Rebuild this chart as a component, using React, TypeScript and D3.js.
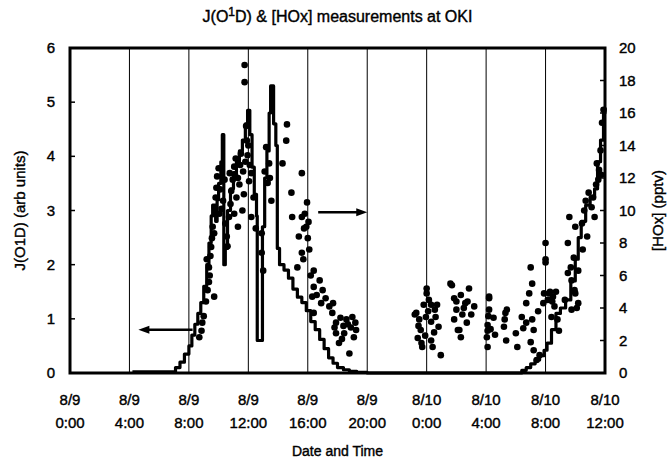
import { useEffect, useRef } from "react";
import * as d3 from "d3";

// x axis: hours since 8/9 0:00
const tickHours = [0, 4, 8, 12, 16, 20, 24, 28, 32, 36];
const tickDates = ["8/9", "8/9", "8/9", "8/9", "8/9", "8/9", "8/10", "8/10", "8/10", "8/10"];
const tickTimes = ["0:00", "4:00", "8:00", "12:00", "16:00", "20:00", "0:00", "4:00", "8:00", "12:00"];

// J(O1D) trace (arb units)
const jHours = [
  4.2, 6.9, 7.1, 7.4, 7.7, 8.0, 8.2, 8.4, 8.6, 8.8, 9.0, 9.2, 9.35, 9.5, 9.6, 9.8, 9.9, 10.0, 10.15,
  10.25, 10.35, 10.45, 10.6, 10.8, 11.0, 11.2, 11.4, 11.6, 11.8, 11.95, 12.1, 12.25, 12.4, 12.55,
  12.6, 12.9, 12.95, 13.1, 13.25, 13.4, 13.5, 13.7, 13.85, 13.95, 14.1, 14.4, 14.7, 15.0, 15.3,
  15.6, 15.9, 16.2, 16.5, 16.8, 17.1, 17.4, 17.7, 18.0, 18.4, 18.8, 19.3, 20.0, 30.2, 30.4, 30.7,
  31.0, 31.3, 31.6, 31.9, 32.1, 32.4, 32.7, 33.0, 33.35, 33.7, 34.0, 34.2, 34.4, 34.7, 35.0, 35.3,
  35.5, 35.7, 35.9, 36.0,
];
const jValues = [
  0.02, 0.02, 0.1, 0.2, 0.35, 0.5, 0.7, 0.9, 1.1, 1.3, 1.6, 2.0, 2.4, 2.9, 3.1, 2.8, 3.2, 3.5, 3.9,
  4.4, 2.0, 2.3, 3.0, 3.4, 3.7, 3.9, 4.1, 4.3, 4.6, 4.85, 4.4, 3.8, 3.3, 2.9,
  0.6, 0.6, 2.7, 3.6, 4.1, 4.8, 5.3, 4.6, 4.2, 2.3, 2.0, 1.9, 1.75, 1.55, 1.4,
  1.3, 1.15, 0.95, 0.8, 0.62, 0.45, 0.28, 0.18, 0.1, 0.06, 0.03, 0.01, 0, 0, 0.05, 0.1,
  0.17, 0.24, 0.32, 0.42, 0.55, 0.8, 1.1, 1.2, 1.35, 1.7, 2.1, 2.5, 2.8, 3.1, 3.25, 3.4,
  3.9, 4.3, 4.8, 4.9,
];

// [HOx] measurements (pptv)
const hoxHours = [
  8.7, 8.85, 8.9, 9.0, 9.15, 9.26, 9.35, 9.7, 9.2, 9.35, 9.5, 9.6, 9.55, 9.7, 9.85, 9.9, 9.8, 10.05,
  10.3, 10.1, 10.45, 10.55, 10.6, 10.7, 10.8, 10.95, 11.05, 11.2, 11.05, 11.3, 11.15, 11.4, 11.5,
  11.6, 11.65, 11.75, 11.75, 11.9, 11.85, 11.95, 12.05, 12.2, 12.2, 12.35, 12.5,
  9.4, 9.45, 9.75, 10.0, 10.2, 10.85, 11.1, 11.3, 11.45, 11.7, 11.8, 12.0, 12.1, 10.4, 10.75,
  12.9, 12.9, 13.0, 13.3, 13.4, 13.2, 13.55, 14.3, 14.55, 14.6, 14.9, 15.6, 14.95, 15.6, 15.8, 15.9,
  15.4, 15.6, 15.3, 16.0, 16.1, 15.95, 16.4, 16.8, 16.4, 17.0, 16.3, 16.4, 17.45, 17.65, 17.9, 18.6,
  19.0, 19.25, 18.8, 18.45, 17.9, 18.1, 17.7, 18.2, 18.4, 18.9, 19.1, 17.8, 16.2, 16.6, 15.7, 17.2,
  16.9, 13.1, 13.45, 15.75, 16.05, 18.3, 18.7, 19.2,
  24.0, 24.0, 23.8, 24.3, 24.7, 23.2, 23.5, 23.95, 24.3, 24.6, 24.8, 23.6, 23.4, 23.7, 24.3, 24.4,
  24.95, 25.7, 25.85, 26.3, 26.85, 26.6, 26.0, 25.85, 26.4, 27.0, 26.7, 26.2, 26.3, 27.2, 28.2, 28.2,
  28.1, 28.05, 28.1, 28.5, 28.6, 29.3, 29.2, 29.35, 23.3, 23.65, 25.6, 26.1, 28.2, 29.4, 24.1, 24.5,
  23.9, 26.5, 28.15, 28.1, 23.45, 24.15, 24.55, 26.0, 26.75, 28.3, 29.25,
  30.0, 30.1, 31.0, 31.1, 30.7, 30.9, 30.4, 30.7, 30.5, 31.1, 31.2, 31.0, 31.2, 31.6, 31.4, 31.9,
  32.0, 32.0, 32.0, 31.85, 32.15, 32.5, 32.6, 32.4, 32.8, 32.3, 32.7, 33.7, 33.75, 34.0, 34.2, 33.75,
  33.6, 34.0, 33.5, 33.9, 34.2, 33.5, 33.95, 34.1, 34.7, 34.8, 34.6, 34.9, 35.2, 35.4, 35.6, 35.55,
  35.7, 35.8, 35.9, 35.75, 35.3, 34.5, 33.3, 32.9, 31.5, 32.25, 32.45, 34.45, 35.1, 35.45,
];
const hoxValues = [
  2.2, 2.6, 3.1, 3.5, 4.4, 5.1, 5.6, 4.7, 7.0, 6.5, 7.75, 9.0, 8.3, 8.6, 11.4, 12.1, 10.8, 9.8,
  10.6, 11.3, 9.2, 8.4, 7.8, 9.6, 10.4, 11.9, 12.7, 10.8, 9.8, 9.0, 13.2, 11.6, 13.5,
  10.0, 12.4, 18.95, 17.9, 14.3, 15.2, 13.4, 11.8, 9.6, 12.3, 10.8, 8.9,
  6.0, 7.2, 10.2, 12.6, 10.1, 11.2, 12.2, 12.0, 12.8, 11.0, 13.0, 14.0, 12.8, 11.9, 12.3,
  8.6, 7.4, 6.3, 11.7, 12.9, 13.9, 10.6, 12.9, 14.3, 15.3, 11.1, 12.3, 9.6, 9.6, 9.8, 9.0,
  8.4, 7.4, 6.5, 8.3, 7.6, 10.5, 6.3, 5.7, 5.3, 5.1, 4.7, 3.7, 4.1, 3.7, 3.1, 3.3,
  3.45, 2.65, 1.2, 2.45, 2.45, 1.85, 4.3, 3.4, 2.9, 2.8, 2.2, 2.8, 6.0, 4.8, 7.0, 4.6,
  4.3, 12.4, 12.0, 8.9, 9.3, 2.1, 3.0, 3.1,
  5.2, 4.9, 4.2, 4.2, 4.2, 3.6, 3.3, 3.45, 3.15, 3.45, 2.85, 2.65, 2.15, 1.6, 2.0, 1.6,
  1.1, 5.4, 4.6, 4.8, 5.2, 4.3, 3.9, 3.3, 3.6, 3.6, 3.1, 2.65, 2.2, 4.1, 4.6, 3.9,
  2.95, 2.2, 1.6, 3.4, 2.35, 3.7, 2.85, 2.0, 3.7, 1.85, 5.5, 2.65, 4.7, 3.9, 3.8, 2.5,
  2.3, 4.0, 3.5, 2.6, 2.9, 4.5, 3.9, 4.4, 4.4, 2.7, 3.3,
  2.45, 1.6, 6.5, 5.5, 4.3, 4.9, 3.45, 3.1, 2.75, 3.3, 2.65, 1.9, 1.4, 1.1, 0.8, 4.9,
  6.8, 8.0, 7.0, 4.3, 4.5, 4.7, 4.1, 3.45, 3.3, 5.0, 5.0, 6.5, 5.7, 4.9, 4.3, 3.9,
  9.6, 9.0, 8.0, 7.1, 6.3, 6.15, 5.1, 4.0, 10.6, 8.4, 10.0, 11.1, 10.8, 11.6, 12.5, 11.9,
  13.7, 15.4, 16.2, 12.2, 9.6, 7.6, 4.5, 2.6, 3.8, 4.9, 4.4, 9.2, 10.2, 12.9,
];

const leftTicks = [0, 1, 2, 3, 4, 5, 6];
const rightTicks = [0, 2, 4, 6, 8, 10, 12, 14, 16, 18, 20];

export default function App() {
  const svgRef = useRef<SVGSVGElement | null>(null);
  const width = 668;
  const height = 461;

  useEffect(() => {
    if (!svgRef.current) return;
    const marginTop = 48;
    const marginRight = 63;
    const marginBottom = 88;
    const marginLeft = 70;
    const font = "'Liberation Sans', Arial, sans-serif";

    const x = d3.scaleLinear([0, 36], [marginLeft, width - marginRight]);
    const yL = d3.scaleLinear([0, 6], [height - marginBottom, marginTop]);
    const yR = d3.scaleLinear([0, 20], [height - marginBottom, marginTop]);

    const svg = d3.select(svgRef.current);
    svg.selectAll("*").remove();

    svg.append("rect").attr("width", width).attr("height", height).attr("fill", "white");

    // vertical grid lines
    svg.append("g")
      .selectAll("line")
      .data(tickHours.slice(1, -1))
      .join("line")
      .attr("x1", d => x(d))
      .attr("x2", d => x(d))
      .attr("y1", yL(6))
      .attr("y2", yL(0))
      .attr("stroke", "#000")
      .attr("stroke-width", 1);

    // inner ticks, left and right
    svg.append("g")
      .selectAll("line")
      .data(leftTicks.slice(1, -1))
      .join("line")
      .attr("x1", x(0))
      .attr("x2", x(0) + 5)
      .attr("y1", d => yL(d))
      .attr("y2", d => yL(d))
      .attr("stroke", "#000")
      .attr("stroke-width", 1.5);
    svg.append("g")
      .selectAll("line")
      .data(rightTicks.slice(1, -1))
      .join("line")
      .attr("x1", x(36))
      .attr("x2", x(36) - 5)
      .attr("y1", d => yR(d))
      .attr("y2", d => yR(d))
      .attr("stroke", "#000")
      .attr("stroke-width", 1.5);

    // J(O1D) step line
    const jData = jHours.map((h, i) => [h, jValues[i]] as [number, number]);
    const line = d3.line<[number, number]>()
      .x(d => x(d[0]))
      .y(d => yL(d[1]))
      .curve(d3.curveStepAfter);
    svg.append("path")
      .attr("fill", "none")
      .attr("stroke", "#000")
      .attr("stroke-width", 3.2)
      .attr("stroke-linejoin", "round")
      .attr("d", line(jData));

    // [HOx] points
    svg.append("g")
      .selectAll("circle")
      .data(hoxHours.map((h, i) => [h, hoxValues[i]]))
      .join("circle")
      .attr("cx", d => x(d[0]))
      .attr("cy", d => yR(d[1]))
      .attr("r", 3.3)
      .attr("fill", "#000");

    // arrows pointing at each axis
    const arrow = (x1: number, x2: number, y: number) => {
      const dir = Math.sign(x2 - x1);
      svg.append("line")
        .attr("x1", x1).attr("x2", x2 - dir * 8)
        .attr("y1", y).attr("y2", y)
        .attr("stroke", "#000").attr("stroke-width", 2.5);
      svg.append("path")
        .attr("d", `M${x2},${y} L${x2 - dir * 11},${y - 4} L${x2 - dir * 11},${y + 4} Z`)
        .attr("fill", "#000");
    };
    arrow(x(8.25), x(4.6), yL(0.8));
    arrow(x(16.7), x(20.0), yR(9.9));

    // frame
    svg.append("rect")
      .attr("x", x(0))
      .attr("y", yL(6))
      .attr("width", x(36) - x(0))
      .attr("height", yL(0) - yL(6))
      .attr("fill", "none")
      .attr("stroke", "#000")
      .attr("stroke-width", 3);

    const txt = (g: any) =>
      g.attr("font-family", font).attr("fill", "#000").attr("stroke", "#000").attr("stroke-width", 0.4);

    // left tick labels
    svg.append("g").call(txt)
      .attr("font-size", 15)
      .attr("text-anchor", "end")
      .selectAll("text")
      .data(leftTicks)
      .join("text")
      .attr("x", x(0) - 15)
      .attr("y", d => yL(d) + 5)
      .text(d => d);

    // right tick labels
    svg.append("g").call(txt)
      .attr("font-size", 15)
      .attr("text-anchor", "start")
      .selectAll("text")
      .data(rightTicks)
      .join("text")
      .attr("x", x(36) + 14)
      .attr("y", d => yR(d) + 5)
      .text(d => d);

    // x tick labels (two lines)
    const xl = svg.append("g").call(txt).attr("font-size", 15).attr("text-anchor", "middle");
    xl.selectAll("text.d")
      .data(tickHours)
      .join("text")
      .attr("class", "d")
      .attr("x", d => x(d))
      .attr("y", 405)
      .text((_, i) => tickDates[i]);
    xl.selectAll("text.t")
      .data(tickHours)
      .join("text")
      .attr("class", "t")
      .attr("x", d => x(d))
      .attr("y", 428)
      .text((_, i) => tickTimes[i]);

    // axis titles
    svg.append("text").call(txt)
      .attr("x", (x(0) + x(36)) / 2)
      .attr("y", 456)
      .attr("font-size", 14)
      .attr("text-anchor", "middle")
      .text("Date and Time");

    svg.append("text").call(txt)
      .attr("transform", `translate(25,${(yL(0) + yL(6)) / 2}) rotate(-90)`)
      .attr("font-size", 15)
      .attr("text-anchor", "middle")
      .text("J(O1D) (arb  units)");

    svg.append("text").call(txt)
      .attr("transform", `translate(663,${(yL(0) + yL(6)) / 2}) rotate(-90)`)
      .attr("font-size", 15)
      .attr("text-anchor", "middle")
      .text("[HOx] (pptv)");

    // title with superscript
    const title = svg.append("text").call(txt)
      .attr("x", (x(0) + x(36)) / 2)
      .attr("y", 22)
      .attr("font-size", 16)
      .attr("text-anchor", "middle");
    title.append("tspan").text("J(O");
    title.append("tspan").attr("dy", -6).attr("font-size", 12).text("1");
    title.append("tspan").attr("dy", 6).text("D) & [HOx] measurements at OKI");

    return () => {
      svg.selectAll("*").remove();
    };
  }, []);

  return (
    <svg
      ref={svgRef}
      width={width}
      height={height}
      viewBox={`0 0 ${width} ${height}`}
      style={{ position: "absolute", left: 0, top: 0, display: "block" }}
    />
  );
}
